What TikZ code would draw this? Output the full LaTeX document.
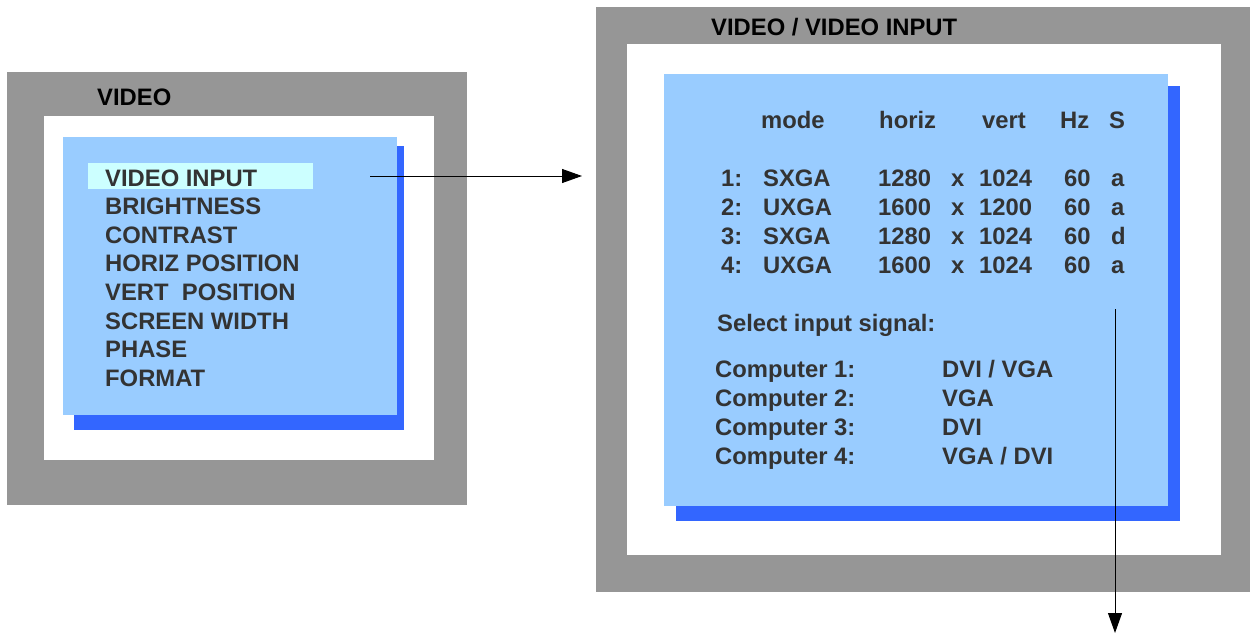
\documentclass[tikz,border=0pt]{standalone}
\usepackage{fontspec}
\setmainfont{Liberation Sans}
\usepackage{xcolor}
\usetikzlibrary{arrows.meta, positioning}

\definecolor{framegray}{HTML}{969696}
\definecolor{panelblue}{HTML}{99CCFF}
\definecolor{shadowblue}{HTML}{3366FF}
\definecolor{selcyan}{HTML}{CCFFFF}
\definecolor{menutext}{HTML}{333333}

\begin{document}
\begin{tikzpicture}[x=1pt, y=-1pt,
  title/.style={font=\fontsize{23.8}{28}\selectfont\bfseries, text=black, anchor=base west, inner sep=0pt},
  entry/.style={font=\fontsize{23.8}{28}\selectfont\bfseries, text=menutext, anchor=base west, inner sep=0pt},
  link/.style={-{Triangle[length=20pt, width=14pt]}, line width=1pt}
]
\def\dy{28.6}
\def\ry{29}

\useasboundingbox (0,0) rectangle (1250,634);

% VIDEO menu
\fill[framegray]  (7,72) rectangle (467,505);
\fill[white]      (44,116) rectangle (434,460);
\fill[shadowblue] (74,146) rectangle (404,430);
\fill[panelblue]  (63,137) rectangle (397,415);
\fill[selcyan]    (88,163) rectangle (313,189);
\node[title] (videotitle) at (97,105) {VIDEO};

\foreach \i/\txt in {0/VIDEO INPUT, 1/BRIGHTNESS, 2/CONTRAST, 3/HORIZ POSITION,
                     4/VERT~~POSITION, 5/SCREEN WIDTH, 6/PHASE, 7/FORMAT} {
  \node[entry] (item\i) at (105, 186+\i*\dy) {\txt};
}

% VIDEO / VIDEO INPUT submenu
\fill[framegray]  (596,7) rectangle (1250,592);
\fill[white]      (627,44) rectangle (1221,555);
\fill[shadowblue] (676,86) rectangle (1180,521);
\fill[panelblue]  (664,74) rectangle (1168,506);
\node[title] (inputtitle) at (711,36) {VIDEO / VIDEO INPUT};

\foreach \x/\txt/\name in {761/mode/hmode, 879/horiz/hhoriz, 982/vert/hvert, 1060/Hz/hhz, 1109/S/hs} {
  \node[entry] (\name) at (\x,128) {\txt};
}

\foreach \i/\mode/\h/\v/\s in {1/SXGA/1280/1024/a, 2/UXGA/1600/1200/a,
                               3/SXGA/1280/1024/d, 4/UXGA/1600/1024/a} {
  \node[entry] (num\i)  at (721, 186+\i*\ry-\ry) {\i:};
  \node[entry] (mode\i) at (763, 186+\i*\ry-\ry) {\mode};
  \node[entry] (h\i)    at (878, 186+\i*\ry-\ry) {\h};
  \node[entry] (x\i)    at (951, 186+\i*\ry-\ry) {x};
  \node[entry] (v\i)    at (979, 186+\i*\ry-\ry) {\v};
  \node[entry] (hz\i)   at (1064,186+\i*\ry-\ry) {60};
  \node[entry] (s\i)    at (1111,186+\i*\ry-\ry) {\s};
}

\node[entry] (select) at (717,331) {Select input signal:};

\foreach \i/\sig in {1/{DVI / VGA}, 2/VGA, 3/DVI, 4/{VGA / DVI}} {
  \node[entry] (comp\i) at (715, 377+\i*\ry-\ry) {Computer \i:};
  \node[entry] (sig\i)  at (942, 377+\i*\ry-\ry) {\sig};
}

% arrows
\coordinate (selout) at (370,176);
\coordinate (subin)  at (582,176);
\draw[link] (selout) -- (subin);

\coordinate (sigout) at (1115,309);
\coordinate (onward) at (1115,633);
\draw[link] (sigout) -- (onward);

\end{tikzpicture}
\end{document}
